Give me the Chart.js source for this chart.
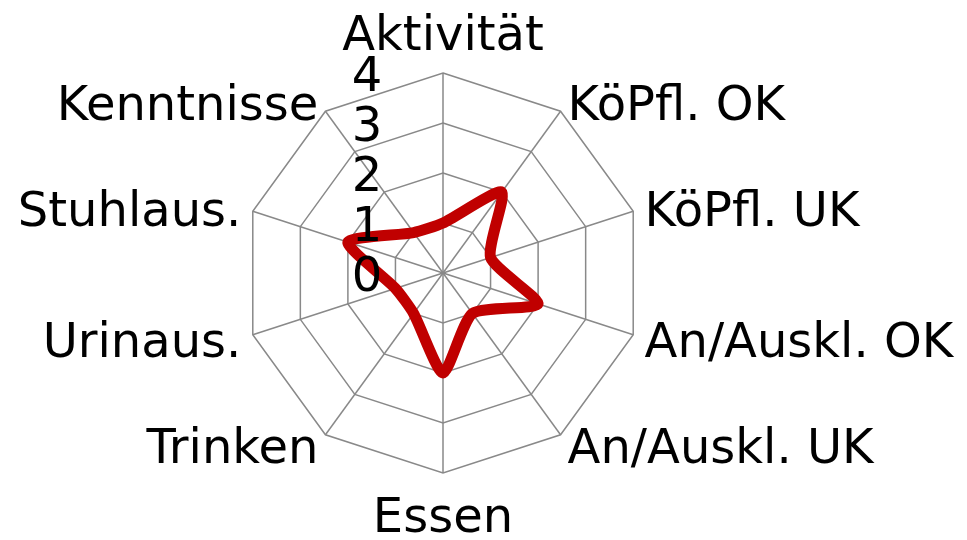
<!DOCTYPE html>
<html>
<head>
<meta charset="utf-8">
<script src="https://cdn.jsdelivr.net/npm/chart.js@4.4.1/dist/chart.umd.min.js"></script>
<style>
  html, body { margin: 0; padding: 0; background: #fff; }
  #wrap { width: 967px; height: 540px; }
</style>
</head>
<body>
<div id="wrap"><canvas id="radar"></canvas></div>
<script>
// Kategorien (Achsen) im Uhrzeigersinn, oben beginnend
const categories = ['Aktivität', 'KöPfl. OK', 'KöPfl. UK', 'An/Auskl. OK', 'An/Auskl. UK',
                    'Essen', 'Trinken', 'Urinaus.', 'Stuhlaus.', 'Kenntnisse'];
// Bewertung je Kategorie
const scores = [1, 2, 1, 2, 1, 2, 1, 1, 2, 1];
// Skalenbeschriftung
const tickValues = [0, 1, 2, 3, 4];

// Beschriftungen selbst zeichnen (Positionen kommen von der Skala)
const axisLabels = {
  id: 'axisLabels',
  afterDraw(chart) {
    const r = chart.scales.r;
    const ctx = chart.ctx;
    ctx.save();
    ctx.font = '48px "DejaVu Sans"';
    ctx.fillStyle = '#000';
    ctx.textBaseline = 'middle';

    // Skalenwerte links neben der senkrechten Achse
    ctx.textAlign = 'center';
    tickValues.forEach(v => {
      const y = r.yCenter - r.getDistanceFromCenterForValue(v);
      ctx.fillText(String(v), r.xCenter - 76, y + 6);
    });

    // Kategorienamen außen an den Ecken
    categories.forEach((name, i) => {
      const deg = Math.round(r.getIndexAngle(i) * 180 / Math.PI);
      const vertical = deg === 0 || deg === 180;
      const p = r.getPointPosition(i, r.drawingArea + (vertical ? 41 : 12));
      ctx.textAlign = vertical ? 'center' : (deg < 180 ? 'left' : 'right');
      ctx.fillText(name, p.x, p.y + 6);
    });
    ctx.restore();
  }
};

new Chart(document.getElementById('radar'), {
  type: 'radar',
  data: {
    labels: categories,
    datasets: [{
      data: scores,
      borderColor: '#c00000',
      borderWidth: 11,
      borderJoinStyle: 'round',
      pointRadius: 0,
      fill: false,
      tension: 0.2
    }]
  },
  options: {
    responsive: true,
    maintainAspectRatio: false,
    animation: false,
    layout: { padding: { left: 243, right: 324, top: 73, bottom: 67 } },
    plugins: {
      legend: { display: false },
      tooltip: { enabled: false }
    },
    scales: {
      r: {
        min: 0,
        max: 4,
        ticks: { stepSize: 1, display: false },
        grid: { color: '#898989', lineWidth: 1.5 },
        angleLines: { color: '#898989', lineWidth: 1.5 },
        pointLabels: { display: false }
      }
    }
  },
  plugins: [axisLabels]
});
</script>
</body>
</html>
